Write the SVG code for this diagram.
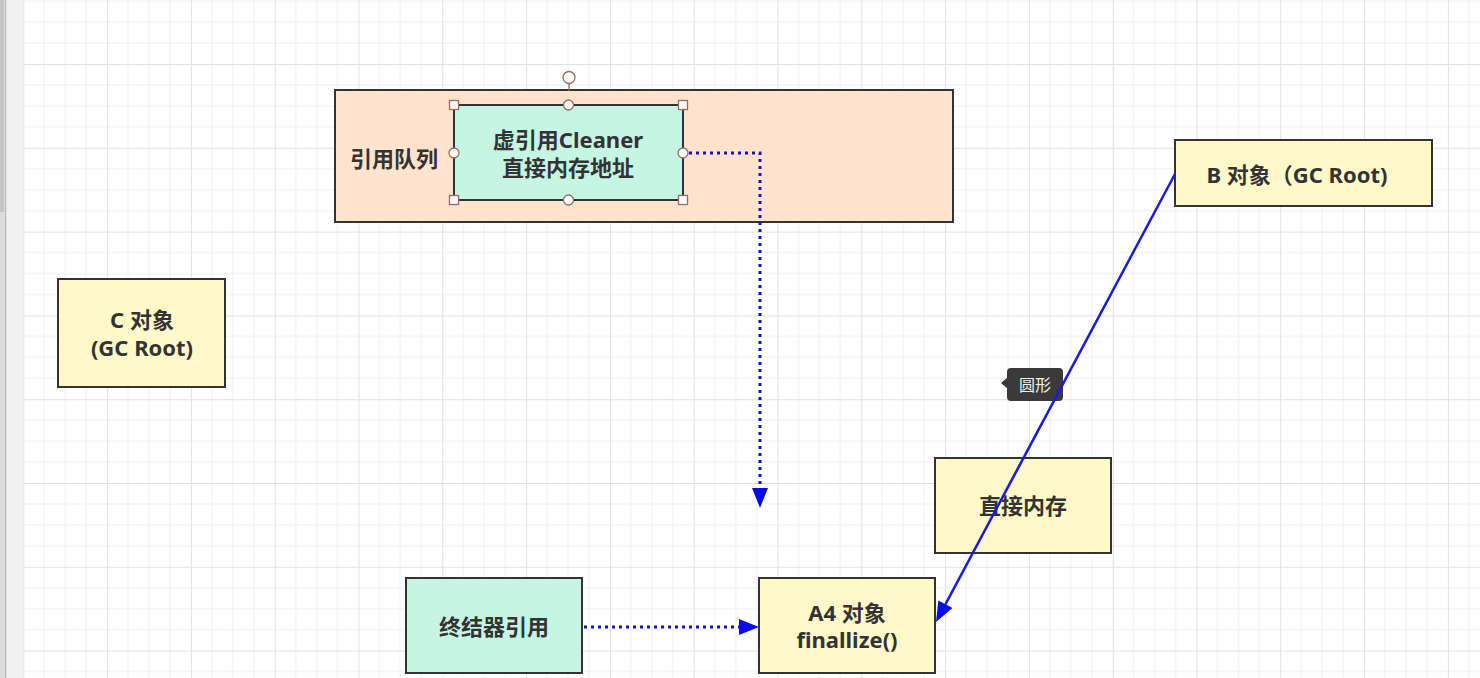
<svg xmlns="http://www.w3.org/2000/svg" width="1480" height="678" viewBox="0 0 1480 678">
<style>
.box{stroke:#333;stroke-width:2}
.y{fill:#fff9c9}
.m{fill:#c6f5e4}
.t{font-family:"Noto Sans","Noto Sans CJK SC",sans-serif;font-weight:bold;font-size:22px;fill:#333;text-anchor:middle;dominant-baseline:central}
.dot{fill:none;stroke:#1414c0;stroke-width:3;stroke-dasharray:3 4}
.h{fill:#fff;stroke:#9a6a60;stroke-width:1.3}
</style>
<defs>
<pattern id="grid" patternUnits="userSpaceOnUse" x="23.3" y="64" width="83.8" height="83.8">
<path d="M20.95,0V83.8M41.9,0V83.8M62.85,0V83.8M0,20.95H83.8M0,41.9H83.8M0,62.85H83.8" stroke="#f0f0f0" stroke-width="1" fill="none"/>
<path d="M0.5,0V83.8M0,0.5H83.8" stroke="#e1e1e1" stroke-width="1" fill="none"/>
</pattern>
<marker id="ah" markerUnits="userSpaceOnUse" markerWidth="22" markerHeight="18" refX="0" refY="8" orient="auto" overflow="visible">
<path d="M0,0L20,8L0,16z" fill="#0a0aee"/>
</marker>
</defs>
<rect width="1480" height="678" fill="#fff"/>
<rect x="23" width="1457" height="678" fill="url(#grid)"/>
<rect width="23" height="678" fill="#f1f1f1"/>
<rect width="5" height="678" fill="#dcdcdc"/>
<rect width="4" height="212" fill="#c4c4c4"/>
<rect x="5" width="1.2" height="678" fill="#b8b8b8"/>

<g id="queue">
<rect class="box" x="335" y="90" width="618" height="132" fill="#ffe3cc"/>
<text class="t" x="394" y="158">引用队列</text>
</g>
<g id="cleaner">
<rect class="box m" x="454" y="105" width="229" height="95"/>
<text class="t" x="568" y="139">虚引用Cleaner</text>
<text class="t" x="568" y="167">直接内存地址</text>
<line x1="569" y1="83" x2="569" y2="91" stroke="#9a6a60" stroke-width="1.3"/>
<circle class="h" cx="569" cy="77.5" r="6"/>
<rect class="h" x="449.5" y="100.5" width="9" height="9"/>
<rect class="h" x="678.5" y="100.5" width="9" height="9"/>
<rect class="h" x="449.5" y="195.5" width="9" height="9"/>
<rect class="h" x="678.5" y="195.5" width="9" height="9"/>
<circle class="h" cx="568.5" cy="105" r="5"/>
<circle class="h" cx="568.5" cy="200" r="5"/>
<circle class="h" cx="454" cy="153" r="5"/>
<circle class="h" cx="683" cy="153" r="5"/>
</g>
<g id="b">
<rect class="box y" x="1175" y="140" width="257" height="66"/>
<text class="t" x="1297" y="174">B 对象（GC Root)</text>
</g>
<g id="c">
<rect class="box y" x="58" y="279" width="167" height="108"/>
<text class="t" x="142" y="319">C 对象</text>
<text class="t" x="142" y="347">(GC Root)</text>
</g>
<g id="direct">
<rect class="box y" x="935" y="458" width="176" height="95"/>
<text class="t" x="1023" y="505">直接内存</text>
</g>
<g id="finalizer">
<rect class="box m" x="406" y="578" width="176" height="95"/>
<text class="t" x="494" y="626">终结器引用</text>
</g>
<g id="a4">
<rect class="box y" x="759" y="578" width="176" height="95"/>
<text class="t" x="847" y="612">A4 对象</text>
<text class="t" x="847" y="639">finallize()</text>
</g>
<g id="tooltip">
<rect x="1007" y="368" width="56" height="33" rx="4" fill="#3a3a3a"/>
<path d="M1008,377L1001,383L1008,389z" fill="#3a3a3a"/>
<text x="1035" y="384" font-family="Noto Sans CJK SC,sans-serif" font-size="16" fill="#f0f0f0" text-anchor="middle" dominant-baseline="central">圆形</text>
</g>
<g id="connectors">
<path class="dot" d="M689,153H760V488" marker-end="url(#ah)"/>
<path class="dot" d="M584,627H739" marker-end="url(#ah)"/>
<path d="M1175,174L945.4,604.3" fill="none" stroke="#1a1ae6" stroke-width="2.5" marker-end="url(#ah)"/>
</g>
</svg>
